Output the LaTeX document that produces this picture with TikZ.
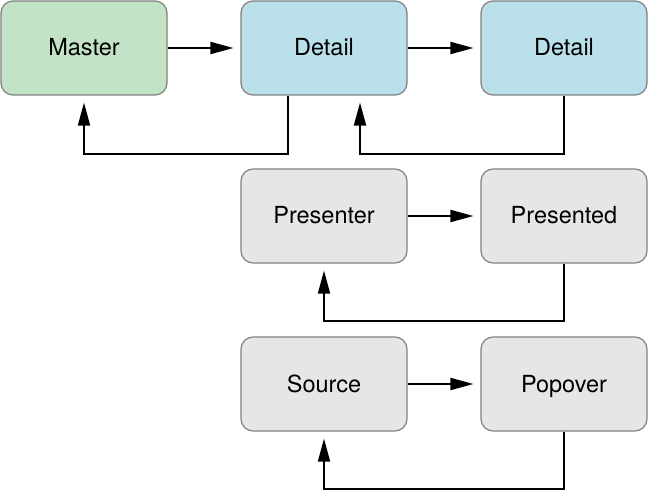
\documentclass[tikz,border=0pt]{standalone}
\usepackage{fontspec}
\setmainfont{TeX Gyre Heros}
\usetikzlibrary{arrows.meta,positioning}
\definecolor{mastergreen}{HTML}{C3E3C7}
\definecolor{detailblue}{HTML}{BAE0EB}
\definecolor{plaingray}{HTML}{E6E6E6}
\definecolor{edgegray}{HTML}{808080}
\begin{document}
\begin{tikzpicture}[x=1bp,y=-1bp,every node/.style={font=\fontsize{23.5bp}{28bp}\selectfont},>={Triangle[length=23bp,width=12bp]},
  box/.style={draw=edgegray,line width=1.2bp,rounded corners=12bp,minimum width=166bp,minimum height=94bp,inner sep=0pt,text height=21bp,text depth=5bp},
  flow/.style={->,line width=2bp,shorten >=7bp}]
\useasboundingbox (0,0) rectangle (648,492);
\node[box,fill=mastergreen] (m) at (84,48) {Master};
\node[box,fill=detailblue] (d1) at (324,48) {Detail};
\node[box,fill=detailblue] (d2) at (564,48) {Detail};
\node[box,fill=plaingray] (p1) at (324,216) {Presenter};
\node[box,fill=plaingray] (p2) at (564,216) {Presented};
\node[box,fill=plaingray] (s1) at (324,384) {Source};
\node[box,fill=plaingray] (s2) at (564,384) {Popover};
\draw[flow] (m) -- (d1);
\draw[flow] (d1) -- (d2);
\draw[flow] (p1) -- (p2);
\draw[flow] (s1) -- (s2);
\draw[flow] ([xshift=-36bp]d1.south) -- ++(0,58) -| (m.south);
\draw[flow] (d2.south) -- ++(0,58) -| ([xshift=36bp]d1.south);
\draw[flow] (p2.south) -- ++(0,57) -| (p1.south);
\draw[flow] (s2.south) -- ++(0,57) -| (s1.south);
\end{tikzpicture}
\end{document}
